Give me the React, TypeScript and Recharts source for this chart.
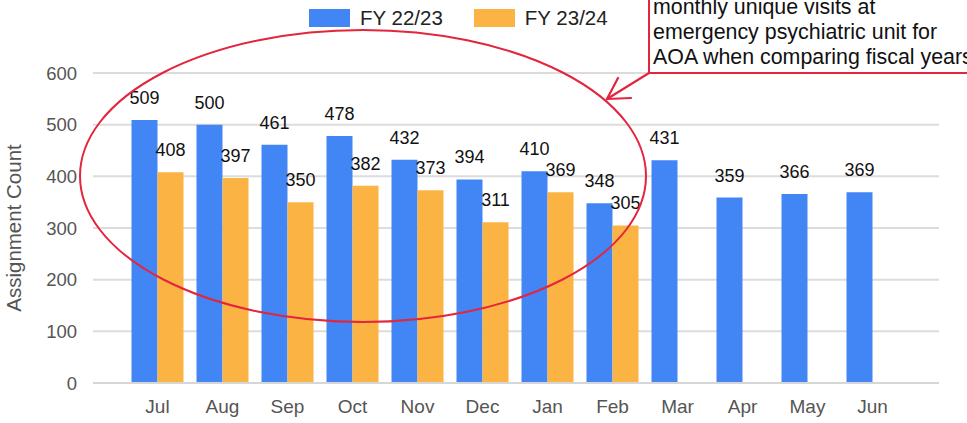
import { BarChart, Bar, XAxis, YAxis, CartesianGrid, LabelList } from 'recharts';

const months = ['Jul', 'Aug', 'Sep', 'Oct', 'Nov', 'Dec', 'Jan', 'Feb', 'Mar', 'Apr', 'May', 'Jun'];
const fy2223 = [509, 500, 461, 478, 432, 394, 410, 348, 431, 359, 366, 369];
const fy2324 = [408, 397, 350, 382, 373, 311, 369, 305, null, null, null, null];
const yTicks = [0, 100, 200, 300, 400, 500, 600];

const SERIES = [
  { key: 'fy2223', name: 'FY 22/23', color: '#4285f4' },
  { key: 'fy2324', name: 'FY 23/24', color: '#fbb443' },
];

const FONT = "Arial, 'Liberation Sans', sans-serif";
const RED = '#e3253d';

const data = months.map((m, i) => ({ month: m, fy2223: fy2223[i], fy2324: fy2324[i] }));

export default function App() {
  return (
    <div style={{ position: 'absolute', left: 0, top: 0, width: 967, height: 423, overflow: 'hidden', background: '#fff', fontFamily: FONT }}>
      <BarChart
        width={967}
        height={423}
        data={data}
        margin={{ top: 73, right: 28, bottom: 0, left: 0 }}
        barCategoryGap="10%"
        barGap={0}
      >
        <CartesianGrid vertical={false} stroke="#dcdcdc" strokeWidth={2} />
        <XAxis
          dataKey="month"
          padding={{ left: 32, right: 34 }}
          height={40}
          tickLine={false}
          axisLine={{ stroke: '#d6d6d6', strokeWidth: 2 }}
          tickMargin={11}
          tick={{ fontSize: 19, fill: '#555', fontFamily: FONT }}
        />
        <YAxis
          domain={[0, 600]}
          ticks={yTicks}
          width={93}
          tickLine={false}
          axisLine={false}
          tickMargin={10}
          tick={{ fontSize: 18.5, fill: '#555', fontFamily: FONT }}
          label={{ value: 'Assignment Count', angle: -90, position: 'insideLeft', offset: 14, style: { textAnchor: 'middle', fontSize: 20.5, fill: '#555', fontFamily: FONT } }}
        />
        {SERIES.map(s => (
          <Bar key={s.key} dataKey={s.key} name={s.name} fill={s.color} isAnimationActive={false}>
            <LabelList
              dataKey={s.key}
              position="top"
              offset={16}
              formatter={(v: any) => (v == null ? '' : v)}
              style={{ fontSize: 18, fill: '#111', fontFamily: FONT }}
            />
          </Bar>
        ))}
      </BarChart>

      {/* legend */}
      <div style={{ position: 'absolute', top: 9, left: 309, display: 'flex', alignItems: 'center', fontSize: 20.5, color: '#222' }}>
        {SERIES.map((s, i) => (
          <div key={s.key} style={{ display: 'flex', alignItems: 'center', marginLeft: i ? 31 : 0 }}>
            <div style={{ width: 41, height: 18, background: s.color, marginRight: 10 }} />
            <span style={{ lineHeight: '18px' }}>{s.name}</span>
          </div>
        ))}
      </div>

      {/* highlight ellipse and arrow */}
      <svg width={967} height={423} style={{ position: 'absolute', left: 0, top: 0, pointerEvents: 'none' }}>
        <ellipse cx={363} cy={176} rx={283} ry={146} fill="none" stroke={RED} strokeWidth={2} />
        <g stroke={RED} strokeWidth={2.2} fill="none" strokeLinecap="round">
          <line x1={649} y1={73} x2={607} y2={99} />
          <line x1={607} y1={99} x2={631} y2={98} />
          <line x1={607} y1={99} x2={618} y2={78} />
        </g>
      </svg>

      {/* annotation box */}
      <div
        style={{
          position: 'absolute',
          left: 648,
          top: -10,
          width: 400,
          border: `2px solid ${RED}`,
          background: '#fff',
          padding: '3px 3px 2px 3px',
          fontSize: 21.4,
          lineHeight: '25px',
          color: '#111',
          whiteSpace: 'nowrap',
        }}
      >
        <div>monthly unique visits at</div>
        <div>emergency psychiatric unit for</div>
        <div>AOA when comparing fiscal years</div>
      </div>
    </div>
  );
}
